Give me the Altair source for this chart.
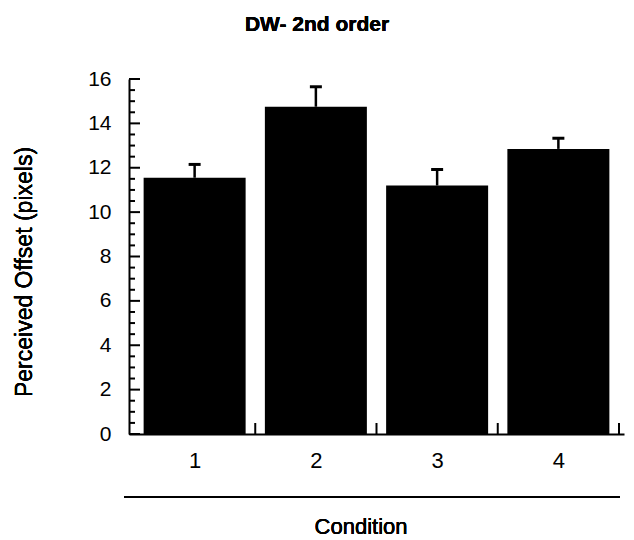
import altair as alt
import pandas as pd

# Mean perceived offset per condition, with the upward standard error
conditions = [1, 2, 3, 4]
means = [11.55, 14.75, 11.2, 12.85]
errors = [0.6, 0.9, 0.72, 0.48]

# Axis tick values
major_ticks = [0, 2, 4, 6, 8, 10, 12, 14, 16]
minor_ticks = [v / 2 for v in range(1, 32) if v % 4 != 0]
x_boundaries = [1.5, 2.5, 3.5, 4.5]

FONT = "Liberation Sans"
W, H = 495, 355

df = pd.DataFrame({"cond": conditions, "mean": means, "err": errors})
df["upper"] = df["mean"] + df["err"]

x_scale = alt.Scale(domain=[0.5, 4.5], nice=False, zero=False)
y_scale = alt.Scale(domain=[0, 16], nice=False)

base = alt.Chart(df)

bars = base.mark_bar(color="black", size=102).encode(
    x=alt.X(
        "cond:Q",
        scale=x_scale,
        axis=alt.Axis(
            values=conditions,
            format="d",
            ticks=False,
            grid=False,
            title=None,
            domainColor="black",
            domainWidth=2,
            labelFont=FONT,
            labelFontSize=22,
            labelColor="black",
            labelPadding=16,
        ),
    ),
    y=alt.Y(
        "mean:Q",
        scale=y_scale,
        axis=alt.Axis(
            values=major_ticks,
            ticks=False,
            grid=False,
            title=None,
            domainColor="black",
            domainWidth=2,
            labelFont=FONT,
            labelFontSize=21,
            labelColor="black",
            labelPadding=18,
        ),
    ),
)

stems = base.mark_rule(color="black", strokeWidth=2.5).encode(
    x="cond:Q", y="mean:Q", y2="upper:Q"
)

caps = base.mark_rule(color="black", strokeWidth=3, xOffset=-6, x2Offset=6).encode(
    x="cond:Q", x2="cond:Q", y="upper:Q"
)

# Inward ticks on the value axis
major_df = pd.DataFrame({"v": major_ticks})
minor_df = pd.DataFrame({"v": minor_ticks})
y_major = alt.Chart(major_df).mark_rule(color="black", strokeWidth=2).encode(
    y=alt.Y("v:Q", scale=y_scale), x=alt.value(0), x2=alt.value(11)
)
y_minor = alt.Chart(minor_df).mark_rule(color="black", strokeWidth=2).encode(
    y=alt.Y("v:Q", scale=y_scale), x=alt.value(0), x2=alt.value(6)
)

# Inward ticks between the condition groups
bound_df = pd.DataFrame({"b": x_boundaries})
x_ticks = alt.Chart(bound_df).mark_rule(color="black", strokeWidth=2).encode(
    x=alt.X("b:Q", scale=x_scale), y=alt.value(H), y2=alt.value(H - 11)
)

# Rule under the condition labels and the axis titles
underline = alt.Chart(df).mark_rule(color="black", strokeWidth=2).encode(
    x=alt.value(-5), x2=alt.value(491), y=alt.value(418)
)

x_title = alt.Chart(df).mark_text(
    text="Condition", font=FONT, fontSize=22, color="black",
    align="center", baseline="middle",
).encode(x=alt.value(232), y=alt.value(448))

y_title = alt.Chart(df).mark_text(
    text="Perceived Offset (pixels)", font=FONT, fontSize=23, color="black",
    align="center", baseline="middle", angle=270,
).encode(x=alt.value(-104), y=alt.value(193))

title = alt.Chart(df).mark_text(
    text="DW- 2nd order", font=FONT, fontSize=21, fontWeight="bold", color="black",
    align="center", baseline="middle",
).encode(x=alt.value(188), y=alt.value(-54))

chart = (
    alt.layer(bars, stems, caps, y_major, y_minor, x_ticks, underline, x_title, y_title, title)
    .properties(
        width=W,
        height=H,
        autosize=alt.AutoSizeParams(type="none"),
        padding={"left": 129, "top": 79, "right": 10, "bottom": 106},
        background="white",
    )
    .configure_view(stroke=None)
)

chart.save("out.html", embed_options={"renderer": "svg", "actions": False})
